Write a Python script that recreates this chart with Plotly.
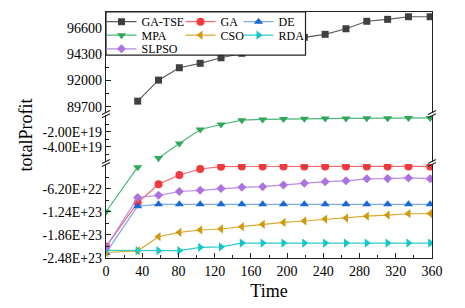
import plotly.graph_objects as go

# ---------------- data ----------------
time = [0, 35, 58, 81, 104, 127, 150, 173, 196, 219, 242, 265, 288, 311, 334, 358]

ga_tse = [None, 90190, 92040, 93130, 93520, 94010, 94400, 94750, 95130, 95810,
          96070, 96560, 97220, 97390, 97620, 97620]
ga = [-2.18e23, -9.97e22, -5.01e22, -2.51e22, -8.9e21, -2.7e21, -2.1e21, -2.0e21,
      -2.0e21, -2.0e21, -2.0e21, -2.0e21, -2.0e21, -2.0e21, -2.0e21, -2.0e21]
de = [-2.35e23, -1.09e23, -1.04e23, -1.04e23, -1.04e23, -1.04e23, -1.04e23, -1.04e23,
      -1.04e23, -1.04e23, -1.04e23, -1.04e23, -1.04e23, -1.04e23, -1.04e23, -1.04e23]
mpa = [-1.24e23, -4.0e21, -5.5e19, -3.57e19, -1.71e19, -1.04e19, -4.7e18, -3.7e18,
       -3.0e18, -2.8e18, -2.5e18, -2.3e18, -2.0e18, -2.0e18, -1.8e18, -1.7e18]
cso = [-2.34e23, -2.295e23, -1.914e23, -1.795e23, -1.733e23, -1.706e23, -1.644e23, -1.58e23,
       -1.53e23, -1.49e23, -1.44e23, -1.41e23, -1.36e23, -1.33e23, -1.295e23, -1.29e23]
rda = [-2.28e23, -2.29e23, -2.29e23, -2.29e23, -2.20e23, -2.19e23, -2.085e23, -2.085e23,
       -2.085e23, -2.085e23, -2.085e23, -2.085e23, -2.085e23, -2.085e23, -2.085e23, -2.085e23]
slpso = [-2.2e23, -8.57e22, -7.98e22, -6.95e22, -6.63e22, -6.15e22, -5.82e22, -5.66e22,
         -5.2e22, -4.74e22, -4.31e22, -4.07e22, -3.53e22, -3.48e22, -3.3e22, -3.5e22]

x_ticks = list(range(0, 361, 40))
top_ticks = [89700, 92000, 94300, 96600]
mid_ticks = [-2.0e19, -4.0e19]
mid_labels = ["-2.00E+19", "-4.00E+19"]
bot_ticks = [-6.2e22, -1.24e23, -1.86e23, -2.48e23]
bot_labels = ["-6.20E+22", "-1.24E+23", "-1.86E+23", "-2.48E+23"]

series = [
    # name, values, marker colour, line colour, symbol, size, legend row, column width
    ("GA-TSE", ga_tse, "#404040", "#5c5c5c", "square", 7, "legend", 34),
    ("GA", ga, "#f03a3e", "#f26a6c", "circle", 8, "legend", 13),
    ("DE", de, "#1a68d8", "#7eaaee", "triangle-up", 8, "legend", 26),
    ("MPA", mpa, "#2fa85c", "#4cb678", "triangle-down", 8, "legend2", 34),
    ("CSO", cso, "#d09a0c", "#d8aa30", "triangle-left", 8, "legend2", 13),
    ("RDA", rda, "#12c6c6", "#30caca", "triangle-right", 8, "legend2", 26),
    ("SLPSO", slpso, "#ac72e0", "#b98ae6", "diamond", 7, "legend3", 34),
]

# ---------------- broken axis: three stacked panels ----------------
panels = [  # key, x axis, y axis, range, domain
    ("top", "x3", "y3", [89145, 98036], [0.5894, 1.0]),
    ("mid", "x2", "y2", [-6.04e19, 1.6e18], [0.3902, 0.5793]),
    ("bot", "x", "y", [-2.488e23, 4.6e21], [0.0, 0.3821]),
]


def home(v):
    for key, _, _, rng, _ in panels:
        if rng[0] <= v <= rng[1]:
            return key
    return None


def panel_values(vals, key, rng):
    homes = [home(v) if v is not None else None for v in vals]
    out = []
    for i, v in enumerate(vals):
        if v is None:
            out.append(None)
        elif homes[i] == key:
            out.append(v)
        else:
            near = (i > 0 and homes[i - 1] == key) or (i + 1 < len(vals) and homes[i + 1] == key)
            out.append(v if near and not (rng[0] <= v <= rng[1]) else None)
    return out, any(h == key for h in homes)


fig = go.Figure()
for rank, (name, vals, mcol, lcol, sym, size, leg, lw) in enumerate(series):
    shown = False
    for key, xa, ya, rng, _ in panels:
        yv, present = panel_values(vals, key, rng)
        if not present:
            continue
        fig.add_trace(go.Scatter(
            x=time, y=yv, name=name, mode="lines+markers", xaxis=xa, yaxis=ya,
            line=dict(color=lcol, width=1.2),
            marker=dict(symbol=sym, size=size, color=mcol, line=dict(width=0)),
            connectgaps=False, showlegend=not shown, legend=leg,
            legendrank=rank, legendwidth=lw,
        ))
        shown = True

FONT = "Liberation Serif"
TICKC = "#222222"
axis_common = dict(showline=True, linecolor=TICKC, linewidth=1.2, showgrid=False,
                   zeroline=False, tickfont=dict(family=FONT, size=14, color="black"))

fig.update_layout(
    width=457, height=300,
    margin=dict(l=98, r=33, t=4, b=50, autoexpand=False),
    paper_bgcolor="white", plot_bgcolor="white",
    font=dict(family=FONT, color="black"),
    xaxis=dict(domain=[0, 1], anchor="y", range=[0, 360], tickmode="array", tickvals=x_ticks,
               ticks="inside", ticklen=5, tickcolor=TICKC,
               minor=dict(ticks="inside", ticklen=3, dtick=20, tick0=0, tickcolor=TICKC),
               title=dict(text="Time", font=dict(family=FONT, size=18), standoff=6),
               **axis_common),
    xaxis2=dict(anchor="y2", matches="x", visible=False),
    xaxis3=dict(anchor="y3", matches="x", side="top", showticklabels=False, ticks="",
                **axis_common),
    yaxis=dict(domain=panels[2][4], range=panels[2][3], tickmode="array",
               tickvals=bot_ticks, ticktext=bot_labels, ticks="inside", ticklen=5,
               tickcolor=TICKC, mirror=True,
               minor=dict(ticks="inside", ticklen=3, tickvals=[-3.1e22, -9.3e22, -1.55e23, -2.17e23],
                          tickcolor=TICKC),
               **axis_common),
    yaxis2=dict(domain=panels[1][4], range=panels[1][3], tickmode="array",
                tickvals=mid_ticks, ticktext=mid_labels, ticks="inside", ticklen=5,
                tickcolor=TICKC, mirror=True,
                minor=dict(ticks="inside", ticklen=3, tickvals=[-1e19, -3e19, -5e19],
                           tickcolor=TICKC),
                **axis_common),
    yaxis3=dict(domain=panels[0][4], range=panels[0][3], tickmode="array",
                tickvals=top_ticks, tickformat="d", ticks="inside", ticklen=5, tickcolor=TICKC,
                mirror=True,
                minor=dict(ticks="inside", ticklen=3, tickvals=[90850, 93150, 95450, 97750],
                           tickcolor=TICKC),
                **axis_common),
    showlegend=True,
)

leg_common = dict(orientation="h", xanchor="left", yanchor="top", bgcolor="rgba(0,0,0,0)",
                  borderwidth=0, itemwidth=30, font=dict(family=FONT, size=12, color="black"),
                  tracegroupgap=0, itemclick=False)
fig.update_layout(
    legend=dict(x=-0.0138, y=1.0195, **leg_common),
    legend2=dict(x=-0.0138, y=0.9646, **leg_common),
    legend3=dict(x=-0.0138, y=0.9093, **leg_common),
)

# legend frame (white, covering the lines like the reference)
fig.add_shape(type="rect", xref="paper", yref="paper", x0=0, x1=0.612, y0=0.825, y1=1.0,
              fillcolor="white", line=dict(color=TICKC, width=1.2), layer="above")

# break marks on both sides of the plot
for yc in [0.5846, 0.3862]:
    for xa in [0, 1]:
        for off in [-1.6, 1.6]:
            fig.add_shape(type="line", xref="paper", yref="paper",
                          xsizemode="pixel", xanchor=xa, x0=-4, x1=4,
                          ysizemode="pixel", yanchor=yc, y0=off - 2, y1=off + 2,
                          line=dict(color=TICKC, width=1.1), layer="above")

fig.add_annotation(text="totalProfit", xref="paper", yref="paper", x=-0.244, y=0.5,
                   textangle=-90, showarrow=False, xanchor="center", yanchor="middle",
                   font=dict(family=FONT, size=18, color="black"))

fig.write_html("out.html")
